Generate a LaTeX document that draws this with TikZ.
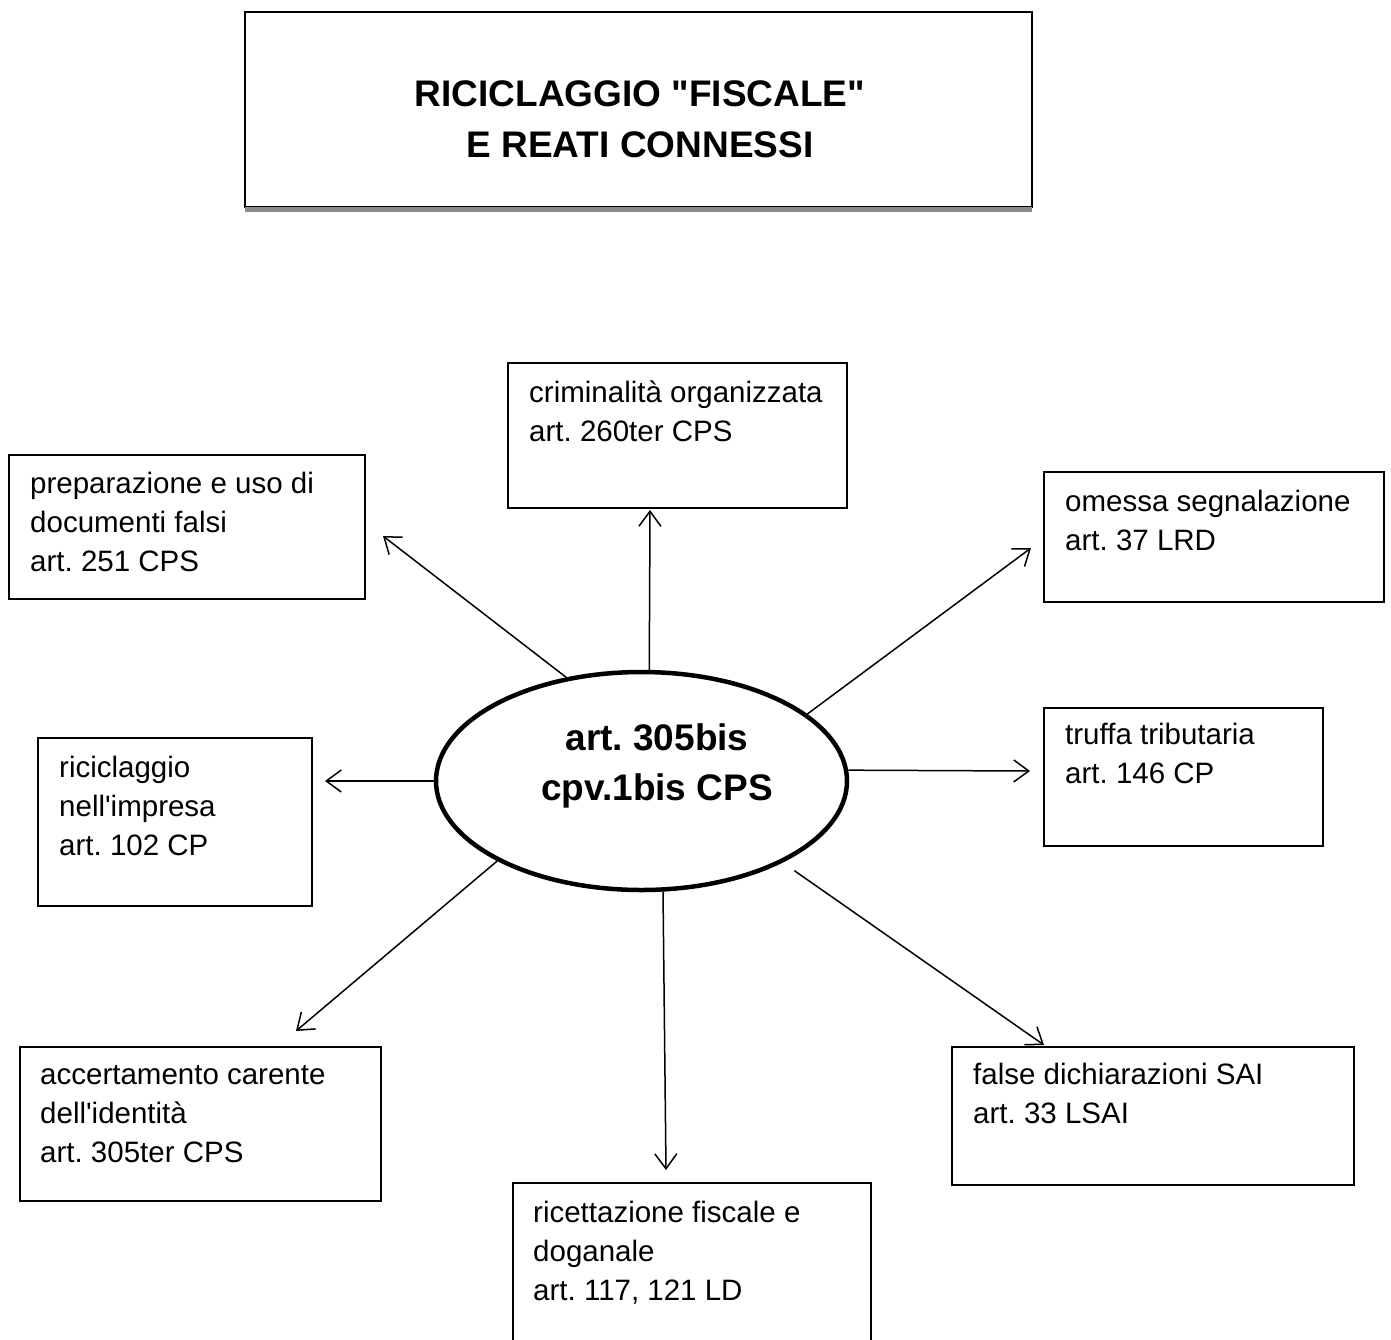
\documentclass[tikz,border=0pt]{standalone}
\usepackage{fontspec}
\setmainfont{Liberation Sans}[Ligatures=TeXOff]
\usetikzlibrary{arrows.meta,shapes.geometric}
\frenchspacing
\begin{document}
\begin{tikzpicture}[x=1pt,y=-1pt,
  box/.style={draw,line width=1.8pt,inner sep=0pt,rectangle},
  txt/.style={anchor=base west,align=left,inner sep=0pt,font=\fontsize{29.5}{39}\selectfont},
  conn/.style={line width=1.5pt,-{Straight Barb[length=15pt,width=22pt]}}]
\useasboundingbox (0,0) rectangle (1391,1339);
\clip (0,0) rectangle (1391,1339);
\fill[white] (0,0) rectangle (1391,1339);

% title
\node[box, minimum width=787pt, minimum height=195pt] (title) at (638.5,109.5) {};
\fill[black!45] (245,207) rectangle (1032,212);
\node[anchor=base, align=center, inner sep=0pt, font=\fontsize{37}{51}\selectfont\bfseries] (titletext) at (640,157) {RICICLAGGIO "FISCALE"\\E REATI CONNESSI};

% central ellipse
\node[ellipse, draw, line width=4.5pt, minimum width=411pt, minimum height=218pt, inner sep=0pt] (ell) at (641.5,781) {};
\node[anchor=base, align=center, inner sep=0pt, font=\fontsize{37}{50}\selectfont\bfseries] (elltext) at (657,800) {art. 305bis\\cpv.1bis CPS};

% boxes
\node[box, minimum width=339pt, minimum height=145pt] (crim) at (677.5,435.5) {};
\node[box, minimum width=356pt, minimum height=144pt] (prep) at (187,527) {};
\node[box, minimum width=340pt, minimum height=130pt] (omes) at (1214,537) {};
\node[box, minimum width=274pt, minimum height=168pt] (rici) at (175,822) {};
\node[box, minimum width=279pt, minimum height=138pt] (truf) at (1183.5,777) {};
\node[box, minimum width=361pt, minimum height=154pt] (acce) at (200.5,1124) {};
\node[box, minimum width=358pt, minimum height=177pt] (rice) at (692,1271.5) {};
\node[box, minimum width=402pt, minimum height=138pt] (fals) at (1153,1116) {};

% texts (anchored at the baseline of the last line)
\node[txt] (crimtext) at (529,441) {criminalità organizzata\\art. 260ter CPS};
\node[txt] (preptext) at (30,571) {preparazione e uso di\\documenti falsi\\art. 251 CPS};
\node[txt] (omestext) at (1065,550) {omessa segnalazione\\art. 37 LRD};
\node[txt] (ricitext) at (59,855) {riciclaggio\\nell'impresa\\art. 102 CP};
\node[txt] (truftext) at (1065,783) {truffa tributaria\\art. 146 CP};
\node[txt] (accetext) at (40,1162) {accertamento carente\\dell'identità\\art. 305ter CPS};
\node[txt] (ricetext) at (533,1300) {ricettazione fiscale e\\doganale\\art. 117, 121 LD};
\node[txt] (falstext) at (973,1123) {false dichiarazioni SAI\\art. 33 LSAI};

% arrow ends
\coordinate (e1) at (650,510);
\coordinate (e2) at (383,536);
\coordinate (e3) at (1031,548);
\coordinate (e4) at (325,781);
\coordinate (e5) at (1030,771);
\coordinate (e6) at (296,1031);
\coordinate (e7) at (666,1170);
\coordinate (e8) at (1044,1045);

\draw[conn] (ell.86) -- (e1);
\draw[conn] (ell.126) -- (e2);
\draw[conn] (ell.22) -- (e3);
\draw[conn] (ell.180) -- (e4);
\draw[conn] (ell.3) -- (e5);
\draw[conn] (ell.209) -- (e6);
\draw[conn] (ell.281) -- (e7);
\draw[conn, shorten <=14pt] (ell.330) -- (e8);
\end{tikzpicture}
\end{document}
